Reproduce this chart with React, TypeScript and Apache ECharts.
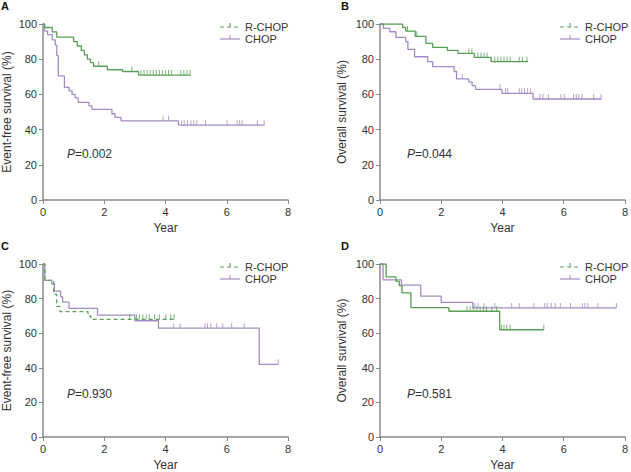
import React, { useEffect, useRef } from "react";
import * as echarts from "echarts";

// ---- Data ----
const xTicks = [0, 2, 4, 6, 8];
const yTicks = [0, 20, 40, 60, 80, 100];
const groups = ["R-CHOP", "CHOP"];
const panelLetters = ["A", "B", "C", "D"];
const yNames = ["Event-free survival (%)", "Overall survival (%)", "Event-free survival (%)", "Overall survival (%)"];
const pValues = ["0.002", "0.044", "0.930", "0.581"];

// Panel A
const A_RCHOP_T = [0, 0.05, 0.3, 0.45, 1.0, 1.12, 1.25, 1.35, 1.45, 1.55, 1.65, 2.1, 2.6, 3.12, 4.82];
const A_RCHOP_S = [100, 98, 95.5, 92.5, 90, 87.5, 85, 82.5, 80, 78, 76, 74, 73, 71, 71];
const A_RCHOP_C = [1.82, 2.9, 3.2, 3.3, 3.4, 3.5, 3.6, 3.7, 3.8, 3.9, 4.0, 4.1, 4.2, 4.5, 4.6, 4.7, 4.8];
const A_CHOP_T = [0, 0.05, 0.15, 0.3, 0.4, 0.45, 0.5, 0.7, 0.85, 0.95, 1.05, 1.15, 1.5, 1.6, 2.25, 2.35, 2.55, 4.42, 7.23];
const A_CHOP_S = [100, 96, 94, 91, 88, 82, 70.5, 64, 62, 60, 58, 55.5, 53.5, 51.5, 49, 47, 45, 42.5, 42.5];
const A_CHOP_C = [3.92, 4.1, 4.53, 4.61, 4.72, 4.83, 4.92, 5.02, 5.31, 6.01, 6.34, 6.42, 6.5, 7.0, 7.22];

// Panel B
const B_RCHOP_T = [0, 0.74, 0.84, 1.15, 1.5, 1.72, 2.2, 2.55, 3.08, 3.63, 4.84];
const B_RCHOP_S = [100, 98, 96, 93, 89, 86.7, 85, 83.3, 81, 78.6, 78.6];
const B_RCHOP_C = [0.9, 1.2, 2.9, 3.0, 3.2, 3.3, 3.4, 3.5, 3.75, 3.85, 3.95, 4.05, 4.15, 4.25, 4.55, 4.65, 4.8];
const B_CHOP_T = [0, 0.11, 0.32, 0.52, 0.84, 0.91, 1.13, 1.56, 1.72, 2.42, 2.5, 2.9, 3.01, 3.12, 3.98, 5.0, 7.23];
const B_CHOP_S = [100, 97.5, 95.6, 92.4, 90, 85.6, 81.4, 78.6, 75.8, 73, 68.8, 67, 65, 62.9, 60.6, 57.4, 57.4];
const B_CHOP_C = [2.69, 3.92, 4.1, 4.17, 4.55, 4.63, 4.72, 4.82, 4.92, 5.22, 5.32, 5.5, 5.91, 6.02, 6.32, 6.41, 6.49, 6.6, 6.98, 7.22];

// Panel C
const C_RCHOP_T = [0, 0.06, 0.35, 0.45, 0.55, 1.47, 1.56, 4.3];
const C_RCHOP_S = [100, 90.5, 82.4, 75.5, 72.5, 70, 68, 68];
const C_RCHOP_C = [2.83, 3.05, 3.15, 3.26, 3.37, 3.47, 3.64, 3.8, 4.01, 4.17, 4.28];
const C_CHOP_T = [0, 0.06, 0.29, 0.37, 0.58, 0.64, 0.85, 1.78, 3.0, 3.77, 7.06, 7.68];
const C_CHOP_S = [100, 90.5, 88.4, 84.3, 81, 78, 74.4, 70.5, 67.2, 62.9, 42, 42];
const C_CHOP_C = [4.27, 4.48, 5.29, 5.37, 5.48, 5.67, 5.87, 6.16, 6.57, 7.68];

// Panel D
const D_RCHOP_T = [0, 0.2, 0.52, 0.63, 0.72, 1.01, 2.25, 3.91, 5.35];
const D_RCHOP_S = [100, 92.6, 90, 87.5, 83.3, 74.8, 72.7, 62, 62];
const D_RCHOP_C = [2.84, 2.95, 3.05, 3.16, 3.27, 3.38, 3.48, 3.65, 3.81, 3.97, 4.05, 4.14, 4.25, 5.35];
const D_CHOP_T = [0, 0.1, 0.7, 1.33, 2.0, 3.03, 7.72];
const D_CHOP_S = [100, 90.8, 87.8, 81.4, 77.8, 74.6, 74.6];
const D_CHOP_C = [3.1, 3.2, 3.4, 3.75, 4.3, 4.55, 5.03, 5.38, 5.46, 5.59, 5.72, 5.89, 6.22, 6.61, 6.69, 6.79, 7.12, 7.72];

const panels = [
  { r: [A_RCHOP_T, A_RCHOP_S, A_RCHOP_C], c: [A_CHOP_T, A_CHOP_S, A_CHOP_C], dashed: false },
  { r: [B_RCHOP_T, B_RCHOP_S, B_RCHOP_C], c: [B_CHOP_T, B_CHOP_S, B_CHOP_C], dashed: false },
  { r: [C_RCHOP_T, C_RCHOP_S, C_RCHOP_C], c: [C_CHOP_T, C_CHOP_S, C_CHOP_C], dashed: true },
  { r: [D_RCHOP_T, D_RCHOP_S, D_RCHOP_C], c: [D_CHOP_T, D_CHOP_S, D_CHOP_C], dashed: false },
];

const GREEN = "#5a9f57";
const PURPLE = "#a28cc2";
const AXIS = "#8a8a8a";
const TEXT = "#333";
const FONT = "'Liberation Sans', Arial, sans-serif";

// layout
const lefts = [40, 380, 40, 380];
const tops = [24, 24, 264, 264];
const W = 248;
const H = 176;

function survAt(T: number[], S: number[], t: number) {
  let v = S[0];
  for (let i = 0; i < T.length; i++) if (T[i] <= t) v = S[i];
  return v;
}

export default function App() {
  const ref = useRef<HTMLDivElement>(null);
  useEffect(() => {
    document.body.style.margin = "0";
    if (!ref.current) return;
    const chart = echarts.init(ref.current, null, { renderer: "svg" });
    const grid: any[] = [];
    const xAxis: any[] = [];
    const yAxis: any[] = [];
    const series: any[] = [];
    const graphic: any[] = [];

    panels.forEach((p, i) => {
      grid.push({ left: lefts[i], top: tops[i], width: W, height: H });
      xAxis.push({
        gridIndex: i, type: "value", min: 0, max: 8, interval: 2,
        name: "Year", nameLocation: "middle", nameGap: 22,
        nameTextStyle: { color: TEXT, fontSize: 12, fontFamily: FONT },
        axisLine: { lineStyle: { color: AXIS, width: 1.5 } },
        axisTick: { show: true, length: 4, lineStyle: { color: AXIS } },
        axisLabel: { color: TEXT, fontSize: 11, fontFamily: FONT, margin: 6,
          formatter: (v: number) => (xTicks.includes(v) ? String(v) : "") },
        splitLine: { show: false },
      });
      yAxis.push({
        gridIndex: i, type: "value", min: 0, max: 100, interval: 20,
        name: yNames[i], nameLocation: "middle", nameGap: i % 2 === 0 ? 30 : 32,
        nameTextStyle: { color: TEXT, fontSize: 12, fontFamily: FONT },
        axisLine: { show: true, lineStyle: { color: AXIS, width: 1.5 } },
        axisTick: { show: true, length: 4, lineStyle: { color: AXIS } },
        axisLabel: { color: TEXT, fontSize: 11, fontFamily: FONT, margin: 6,
          formatter: (v: number) => (yTicks.includes(v) ? String(v) : "") },
        splitLine: { show: false },
      });
      const curves = [
        { d: p.r, color: GREEN, dashed: p.dashed, name: groups[0] },
        { d: p.c, color: PURPLE, dashed: false, name: groups[1] },
      ];
      curves.forEach((cv) => {
        const [T, S, C] = cv.d as number[][];
        series.push({
          type: "line", name: cv.name, xAxisIndex: i, yAxisIndex: i, step: "end",
          data: T.map((t, k) => [t, S[k]]), showSymbol: false, symbol: "none",
          lineStyle: { color: cv.color, width: 1.3, type: cv.dashed ? [4, 3] : "solid" },
          z: cv.color === GREEN ? 3 : 2,
        });
        series.push({
          type: "scatter", xAxisIndex: i, yAxisIndex: i,
          data: C.map((t) => [t, survAt(T, S, t)]),
          symbol: "rect", symbolSize: [1, 5], symbolOffset: [0, -2.5],
          itemStyle: { color: cv.color }, z: 4,
        });
      });
      // panel letter
      graphic.push({ type: "text", left: i % 2 === 0 ? 1 : 341, top: tops[i] - 24,
        style: { text: panelLetters[i], fontSize: 11, fontWeight: "bold", fill: "#111", fontFamily: FONT } });
      // P value
      graphic.push({ type: "text", x: lefts[i] + 27, y: tops[i] + 130,
        style: { text: "{i|P}=" + pValues[i], fontSize: 12, fill: TEXT, fontFamily: FONT, verticalAlign: "middle",
          rich: { i: { fontStyle: "italic", fontSize: 12, fill: TEXT, fontFamily: FONT } } } });
      // legend
      const lx = lefts[i] + 180;
      const ly = [tops[i] + 3, tops[i] + 15];
      const cols = [GREEN, PURPLE];
      const dashes = [true, false];
      [0, 1].forEach((k) => {
        graphic.push({ type: "line", shape: { x1: lx, y1: ly[k], x2: lx + 20, y2: ly[k] },
          style: { stroke: cols[k], lineWidth: 1.2, lineDash: dashes[k] ? [4, 3] : null } });
        graphic.push({ type: "line", shape: { x1: lx + 10, y1: ly[k] - 4, x2: lx + 10, y2: ly[k] },
          style: { stroke: cols[k], lineWidth: 1 } });
        graphic.push({ type: "text", x: lx + 25, y: ly[k],
          style: { text: groups[k], fontSize: 11, lineHeight: 11, fill: TEXT, fontFamily: FONT, verticalAlign: "middle" } });
      });
    });

    chart.setOption({
      animation: false,
      backgroundColor: "#fff",
      grid, xAxis, yAxis, series, graphic,
    });
    return () => chart.dispose();
  }, []);
  return <div ref={ref} style={{ width: 631, height: 472 }} />;
}
